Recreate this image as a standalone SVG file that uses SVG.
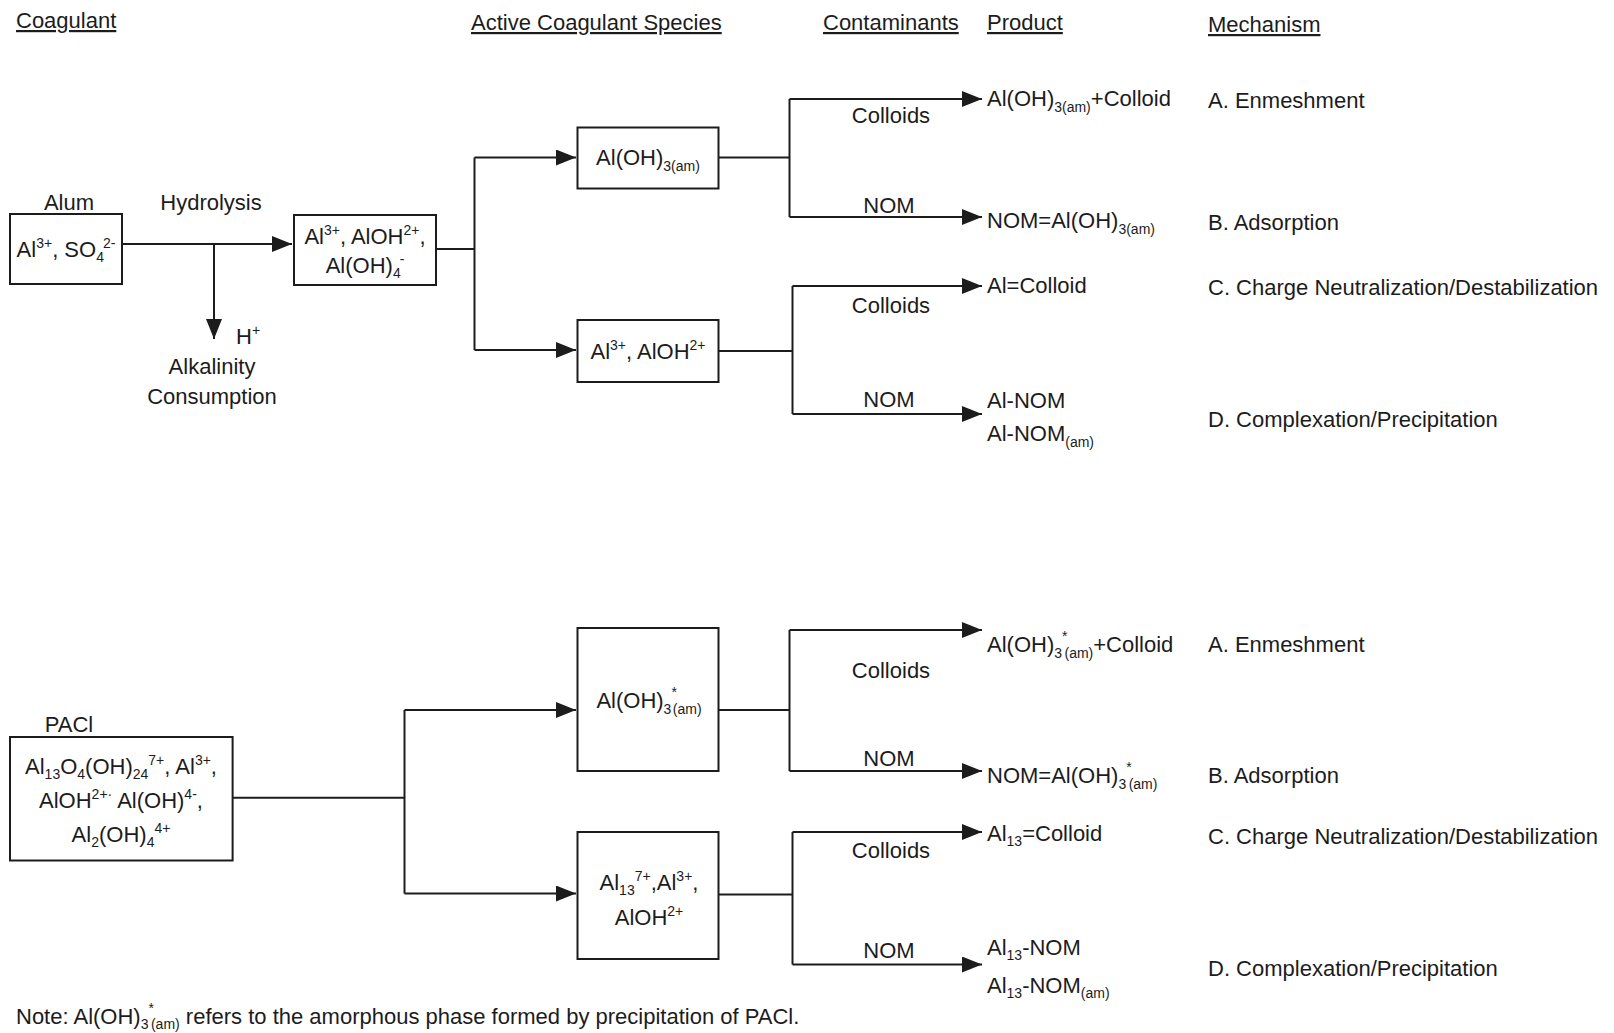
<svg xmlns="http://www.w3.org/2000/svg" width="1614" height="1033" viewBox="0 0 1614 1033">
<style>
text{font-family:"Liberation Sans",Arial,sans-serif;font-size:22px;fill:#1c1c1c}
.h{text-decoration:underline}
.m{text-anchor:middle}
.s{font-size:14px}
.box{fill:#fff;stroke:#1c1c1c;stroke-width:2}
.ln{fill:none;stroke:#1c1c1c;stroke-width:2}
</style>
<defs>
<marker id="ar" viewBox="0 0 20 16" refX="20" refY="8" markerWidth="20" markerHeight="16" markerUnits="userSpaceOnUse" orient="auto">
<path d="M0,0 L20,8 L0,16 z" fill="#1c1c1c"/>
</marker>
</defs>
<rect width="1614" height="1033" fill="#fff"/>

<g id="headers">
<text class="h" x="16" y="28">Coagulant</text>
<text class="h" x="471" y="30">Active Coagulant Species</text>
<text class="h" x="823" y="30">Contaminants</text>
<text class="h" x="987" y="30">Product</text>
<text class="h" x="1208" y="32">Mechanism</text>
</g>

<g id="connectors">
<path class="ln" d="M122,244 H292" marker-end="url(#ar)"/>
<path class="ln" d="M214,244 V339" marker-end="url(#ar)"/>
<path class="ln" d="M436,249 H474.5"/>
<path class="ln" d="M474.5,157.5 V350"/>
<path class="ln" d="M474.5,157.5 H576" marker-end="url(#ar)"/>
<path class="ln" d="M474.5,350 H576" marker-end="url(#ar)"/>
<path class="ln" d="M718.5,157.5 H789.5"/>
<path class="ln" d="M789.5,99 V217"/>
<path class="ln" d="M789.5,99 H982" marker-end="url(#ar)"/>
<path class="ln" d="M789.5,217 H982" marker-end="url(#ar)"/>
<path class="ln" d="M718.5,351 H792.5"/>
<path class="ln" d="M792.5,286 V414"/>
<path class="ln" d="M792.5,286 H982" marker-end="url(#ar)"/>
<path class="ln" d="M792.5,414 H982" marker-end="url(#ar)"/>

<path class="ln" d="M232.6,797.7 H404.5"/>
<path class="ln" d="M404.5,710 V893.5"/>
<path class="ln" d="M404.5,710 H576" marker-end="url(#ar)"/>
<path class="ln" d="M404.5,893.5 H576" marker-end="url(#ar)"/>
<path class="ln" d="M718.5,710 H789.5"/>
<path class="ln" d="M789.5,630 V771"/>
<path class="ln" d="M789.5,630 H982" marker-end="url(#ar)"/>
<path class="ln" d="M789.5,771 H982" marker-end="url(#ar)"/>
<path class="ln" d="M718.5,894.5 H792.5"/>
<path class="ln" d="M792.5,832 V964.5"/>
<path class="ln" d="M792.5,832 H982" marker-end="url(#ar)"/>
<path class="ln" d="M792.5,964.5 H982" marker-end="url(#ar)"/>
</g>

<g id="labels">
<text class="m" x="211" y="210">Hydrolysis</text>
<text x="236" y="344">H<tspan class="s" dy="-9">+</tspan></text>
<text class="m" x="212" y="374">Alkalinity</text>
<text class="m" x="212" y="404">Consumption</text>
<text class="m" x="891" y="123">Colloids</text>
<text class="m" x="889" y="213">NOM</text>
<text class="m" x="891" y="313">Colloids</text>
<text class="m" x="889" y="407">NOM</text>
<text class="m" x="891" y="678">Colloids</text>
<text class="m" x="889" y="766">NOM</text>
<text class="m" x="891" y="858">Colloids</text>
<text class="m" x="889" y="958">NOM</text>
</g>

<g id="alum">
<text class="m" x="69" y="210">Alum</text>
<rect class="box" x="10" y="214" width="112" height="70"/>
<text class="m" x="66" y="257">Al<tspan class="s" dy="-9">3+</tspan><tspan dy="9">, SO</tspan><tspan class="s" dy="5">4</tspan><tspan class="s" dx="-1" dy="-14">2-</tspan></text>
</g>

<g id="hydrolysis-species">
<rect class="box" x="294" y="215" width="142" height="70"/>
<text class="m" x="365" y="244">Al<tspan class="s" dy="-9">3+</tspan><tspan dy="9">, AlOH</tspan><tspan class="s" dy="-9">2+</tspan><tspan dy="9">,</tspan></text>
<text class="m" x="365" y="273">Al(OH)<tspan class="s" dy="5">4</tspan><tspan class="s" dx="-1" dy="-14">-</tspan></text>
</g>

<g id="aloh3-am">
<rect class="box" x="577.5" y="127.5" width="141" height="61"/>
<text class="m" x="648" y="165">Al(OH)<tspan class="s" dy="6">3(am)</tspan></text>
</g>

<g id="al-aloh">
<rect class="box" x="577.5" y="320" width="141" height="62"/>
<text class="m" x="648" y="359">Al<tspan class="s" dy="-9">3+</tspan><tspan dy="9">, AlOH</tspan><tspan class="s" dy="-9">2+</tspan></text>
</g>

<g id="products-alum">
<text x="987" y="106">Al(OH)<tspan class="s" dy="6">3(am)</tspan><tspan dy="-6">+Colloid</tspan></text>
<text x="987" y="228">NOM=Al(OH)<tspan class="s" dy="6">3(am)</tspan></text>
<text x="987" y="293">Al=Colloid</text>
<text x="987" y="408">Al-NOM</text>
<text x="987" y="441">Al-NOM<tspan class="s" dy="6">(am)</tspan></text>
</g>

<g id="mechanisms-alum">
<text x="1208" y="108">A. Enmeshment</text>
<text x="1208" y="230">B. Adsorption</text>
<text x="1208" y="295">C. Charge Neutralization/Destabilization</text>
<text x="1208" y="427">D. Complexation/Precipitation</text>
</g>

<g id="pacl">
<text class="m" x="69" y="732">PACl</text>
<rect class="box" x="10" y="737" width="222.6" height="123.5"/>
<text class="m" x="121" y="774">Al<tspan class="s" dy="5">13</tspan><tspan dy="-5">O</tspan><tspan class="s" dy="5">4</tspan><tspan dy="-5">(OH)</tspan><tspan class="s" dy="5">24</tspan><tspan class="s" dy="-14">7+</tspan><tspan dy="9">, Al</tspan><tspan class="s" dy="-9">3+</tspan><tspan dy="9">,</tspan></text>
<text class="m" x="121" y="808">AlOH<tspan class="s" dy="-9">2+·</tspan><tspan dy="9"> Al(OH)</tspan><tspan class="s" dy="-9">4-</tspan><tspan dy="9">,</tspan></text>
<text class="m" x="121" y="842">Al<tspan class="s" dy="5">2</tspan><tspan dy="-5">(OH)</tspan><tspan class="s" dy="5">4</tspan><tspan class="s" dy="-14">4+</tspan></text>
</g>

<g id="aloh3-star">
<rect class="box" x="577.5" y="628" width="141" height="143"/>
<text class="m" x="649" y="708">Al(OH)<tspan class="s" dy="6">3</tspan><tspan class="s" dy="-17">*</tspan><tspan class="s" dx="-4" dy="17">(am)</tspan></text>
</g>

<g id="al13-species">
<rect class="box" x="577.5" y="832" width="141" height="127"/>
<text class="m" x="649" y="890">Al<tspan class="s" dy="5">13</tspan><tspan class="s" dy="-14">7+</tspan><tspan dy="9">,Al</tspan><tspan class="s" dy="-9">3+</tspan><tspan dy="9">,</tspan></text>
<text class="m" x="649" y="925">AlOH<tspan class="s" dy="-9">2+</tspan></text>
</g>

<g id="products-pacl">
<text x="987" y="652">Al(OH)<tspan class="s" dy="6">3</tspan><tspan class="s" dy="-17">*</tspan><tspan class="s" dx="-3" dy="17">(am)</tspan><tspan dy="-6">+Colloid</tspan></text>
<text x="987" y="783">NOM=Al(OH)<tspan class="s" dy="6">3</tspan><tspan class="s" dy="-17">*</tspan><tspan class="s" dx="-3" dy="17">(am)</tspan></text>
<text x="987" y="841">Al<tspan class="s" dy="5">13</tspan><tspan dy="-5">=Colloid</tspan></text>
<text x="987" y="955">Al<tspan class="s" dy="5">13</tspan><tspan dy="-5">-NOM</tspan></text>
<text x="987" y="993">Al<tspan class="s" dy="5">13</tspan><tspan dy="-5">-NOM</tspan><tspan class="s" dy="5">(am)</tspan></text>
</g>

<g id="mechanisms-pacl">
<text x="1208" y="652">A. Enmeshment</text>
<text x="1208" y="783">B. Adsorption</text>
<text x="1208" y="844">C. Charge Neutralization/Destabilization</text>
<text x="1208" y="976">D. Complexation/Precipitation</text>
</g>

<g id="note">
<text x="16" y="1024">Note: Al(OH)<tspan class="s" dy="5">3</tspan><tspan class="s" dy="-16">*</tspan><tspan class="s" dx="-3" dy="16">(am)</tspan><tspan dy="-5"> refers to the amorphous phase formed by precipitation of PACl.</tspan></text>
</g>
</svg>
